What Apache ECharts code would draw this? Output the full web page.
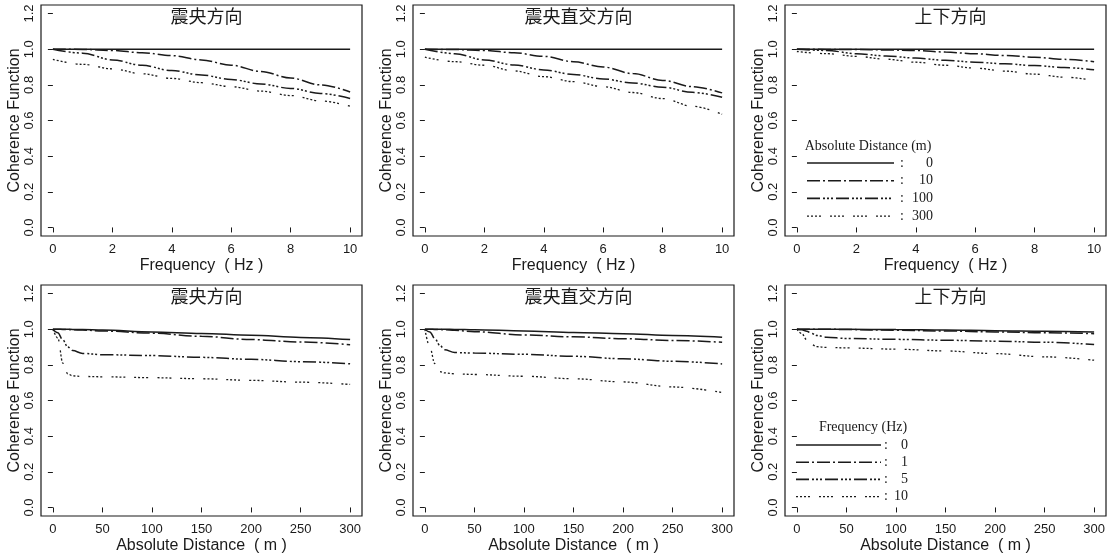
<!DOCTYPE html>
<html>
<head>
<meta charset="utf-8">
<script src="https://cdn.jsdelivr.net/npm/echarts@6/dist/echarts.min.js"></script>
<style>
  html, body { margin: 0; padding: 0; background: #fff; }
  #chart { width: 1116px; height: 559px; }
</style>
</head>
<body>
<div id="chart"></div>
<script>
// panel titles (one per column)
const panelTitles = ['震央方向', '震央直交方向', '上下方向']

// top row: coherence vs frequency, one curve per absolute distance
const freqHz = [0, 1, 2, 3, 4, 5, 6, 7, 8, 9, 10]
const distLegend = ['0', '10', '100', '300']
const epiByDist = [
  [1, 1, 1, 1, 1, 1, 1, 1, 1, 1, 1],
  [1.0, 0.999, 0.993, 0.98, 0.964, 0.94, 0.91, 0.875, 0.838, 0.80, 0.76],
  [1.0, 0.978, 0.94, 0.91, 0.88, 0.855, 0.83, 0.805, 0.78, 0.752, 0.723],
  [0.943, 0.915, 0.89, 0.862, 0.836, 0.812, 0.79, 0.765, 0.74, 0.71, 0.68]
]
const orthByDist = [
  [1, 1, 1, 1, 1, 1, 1, 1, 1, 1, 1],
  [1.0, 0.998, 0.993, 0.98, 0.96, 0.93, 0.9, 0.863, 0.825, 0.79, 0.755],
  [1.0, 0.975, 0.94, 0.912, 0.884, 0.858, 0.833, 0.81, 0.787, 0.758, 0.73],
  [0.955, 0.93, 0.91, 0.878, 0.846, 0.818, 0.79, 0.757, 0.723, 0.68, 0.635]
]
const vertByDist = [
  [1, 1, 1, 1, 1, 1, 1, 1, 1, 1, 1],
  [1.0, 0.999, 0.998, 0.996, 0.993, 0.984, 0.974, 0.965, 0.955, 0.943, 0.93],
  [1.0, 0.993, 0.975, 0.962, 0.95, 0.938, 0.927, 0.918, 0.908, 0.897, 0.885],
  [0.987, 0.975, 0.96, 0.944, 0.927, 0.91, 0.894, 0.877, 0.86, 0.843, 0.825]
]

// bottom row: coherence vs distance, one curve per frequency
const distM = [0, 5, 10, 15, 20, 30, 50, 100, 150, 200, 250, 300]
const freqLegend = ['0', '1', '5', '10']
const epiByFreq = [
  [1, 1, 1, 1, 0.999, 0.998, 0.995, 0.985, 0.976, 0.966, 0.954, 0.942],
  [1, 1, 0.999, 0.998, 0.997, 0.995, 0.99, 0.978, 0.96, 0.942, 0.928, 0.913],
  [1, 0.98, 0.94, 0.9, 0.88, 0.864, 0.857, 0.852, 0.842, 0.831, 0.818, 0.806],
  [1, 0.95, 0.81, 0.75, 0.738, 0.735, 0.733, 0.728, 0.722, 0.713, 0.703, 0.69]
]
const orthByFreq = [
  [1, 1, 1, 1, 1, 0.999, 0.997, 0.99, 0.982, 0.975, 0.965, 0.955],
  [1, 1, 0.999, 0.998, 0.997, 0.994, 0.986, 0.968, 0.957, 0.947, 0.937, 0.927],
  [1, 0.985, 0.948, 0.91, 0.885, 0.869, 0.866, 0.859, 0.848, 0.834, 0.82, 0.805],
  [1, 0.9, 0.807, 0.762, 0.755, 0.75, 0.746, 0.736, 0.722, 0.704, 0.676, 0.645]
]
const vertByFreq = [
  [1, 1, 1, 1, 1, 1, 1, 0.998, 0.995, 0.992, 0.989, 0.985],
  [1, 1, 1, 1, 1, 1, 0.998, 0.994, 0.99, 0.985, 0.98, 0.975],
  [1, 0.997, 0.989, 0.976, 0.965, 0.955, 0.948, 0.943, 0.938, 0.933, 0.927, 0.914],
  [1, 0.975, 0.94, 0.914, 0.902, 0.898, 0.895, 0.888, 0.878, 0.863, 0.845, 0.826]
]

// axis ticks
const yTicks = [0, 0.2, 0.4, 0.6, 0.8, 1.0, 1.2]
const freqTicks = [0, 2, 4, 6, 8, 10]
const distTicks = [0, 50, 100, 150, 200, 250, 300]

const INK = '#1a1a1a'
const SANS = '"Liberation Sans", Arial, sans-serif'
const SERIF = '"Liberation Serif", "Times New Roman", serif'
const CJK = '"Noto Sans CJK SC", sans-serif'
const LINE_TYPES = ['solid', [13, 3, 2, 3], [13, 3, 2, 2, 2, 2, 2, 3], [2, 2, 2, 2, 2, 2, 2, 9]]

const colLeft = [41, 413, 785]
const rowTop = [5, 285]
const boxW = 321
const boxH = 231

const rows = [
  { x: freqHz, sets: [epiByDist, orthByDist, vertByDist], names: distLegend,
    min: -0.4, max: 10.4, ticks: freqTicks, label: 'Frequency  ( Hz )' },
  { x: distM, sets: [epiByFreq, orthByFreq, vertByFreq], names: freqLegend,
    min: -12, max: 312, ticks: distTicks, label: 'Absolute Distance  ( m )' }
]

const grids = [], xAxes = [], yAxes = [], series = [], titles = []

rows.forEach((row, r) => {
  colLeft.forEach((left, c) => {
    const idx = grids.length
    grids.push({
      left: left, top: rowTop[r], width: boxW, height: boxH,
      show: true, borderColor: INK, borderWidth: 1.2, backgroundColor: 'transparent'
    })
    xAxes.push({
      type: 'value', gridIndex: idx, min: row.min, max: row.max,
      name: row.label, nameLocation: 'middle', nameGap: 22,
      nameTextStyle: { color: INK, fontSize: 16, fontFamily: SANS },
      axisLine: { show: false },
      axisTick: { show: true, inside: false, length: 5, customValues: row.ticks, lineStyle: { color: INK } },
      axisLabel: { customValues: row.ticks, color: INK, fontSize: 13, fontFamily: SANS, margin: 7 },
      splitLine: { show: false }
    })
    yAxes.push({
      type: 'value', gridIndex: idx, min: -0.048, max: 1.248,
      name: 'Coherence Function', nameLocation: 'middle', nameGap: 14, nameRotate: 90,
      nameTextStyle: { color: INK, fontSize: 16, fontFamily: SANS },
      axisLine: { show: false },
      axisTick: { show: true, inside: false, length: 5, customValues: yTicks, lineStyle: { color: INK } },
      axisLabel: {
        customValues: yTicks, rotate: 90, color: INK, fontSize: 13, fontFamily: SANS, margin: 5,
        formatter: v => v.toFixed(1)
      },
      splitLine: { show: false }
    })
    titles.push({
      text: panelTitles[c], left: left + boxW / 2 + 5, top: rowTop[r] + 2, textAlign: 'center',
      padding: 0,
      textStyle: { color: INK, fontSize: 18, fontWeight: 'normal', fontFamily: CJK }
    })
    row.sets[c].forEach((vals, k) => {
      series.push({
        name: row.names[k], type: 'line', xAxisIndex: idx, yAxisIndex: idx,
        data: row.x.map((xv, i) => [xv, vals[i]]),
        symbol: 'none', smooth: 0.35, smoothMonotone: 'x', silent: true,
        lineStyle: { color: INK, width: k === 3 ? 1.3 : 1.5, type: LINE_TYPES[k] }
      })
    })
  })
})

// hand-drawn style legends in the right-hand panels
function legendBlock(title, names, titleX, titleY, lineX1, lineX2, colonX, numX, rowY0, rowStep) {
  const els = [{
    type: 'text', x: titleX, y: titleY,
    style: { text: title, fill: INK, fontSize: 14, fontFamily: SERIF, align: 'center', verticalAlign: 'middle' }
  }]
  names.forEach((n, k) => {
    const y = rowY0 + k * rowStep
    els.push({
      type: 'line', shape: { x1: lineX1, y1: y, x2: lineX2, y2: y },
      style: { stroke: INK, lineWidth: k === 3 ? 1.3 : 1.6, lineDash: k === 0 ? null : LINE_TYPES[k] }
    })
    els.push({
      type: 'text', x: colonX, y: y,
      style: { text: ':', fill: INK, fontSize: 14, fontFamily: SERIF, align: 'center', verticalAlign: 'middle' }
    })
    els.push({
      type: 'text', x: numX, y: y,
      style: { text: n, fill: INK, fontSize: 14, fontFamily: SERIF, align: 'right', verticalAlign: 'middle' }
    })
  })
  return els
}

const graphics = [].concat(
  legendBlock('Absolute Distance (m)', distLegend, 868, 146, 807, 894, 902, 933, 163, 17.7),
  legendBlock('Frequency (Hz)', freqLegend, 863, 427, 796, 881, 886, 908, 445, 17.2)
)

const chart = echarts.init(document.getElementById('chart'))
chart.setOption({
  backgroundColor: '#fff',
  animation: false,
  title: titles,
  grid: grids,
  xAxis: xAxes,
  yAxis: yAxes,
  series: series,
  graphic: graphics
})
</script>
</body>
</html>
